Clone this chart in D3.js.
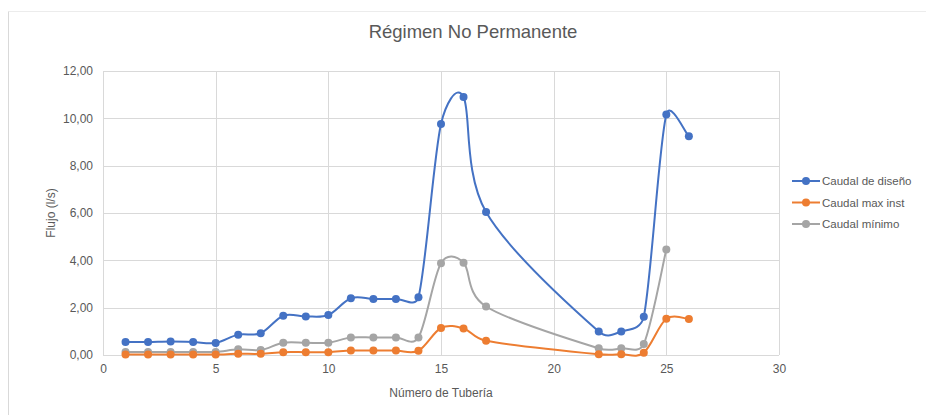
<!DOCTYPE html>
<html>
<head>
<meta charset="utf-8">
<script src="https://cdn.jsdelivr.net/npm/d3@7"></script>
<style>
  html, body { margin: 0; padding: 0; background: #fff; }
  svg { display: block; font-family: "Liberation Sans", Arial, sans-serif; }
</style>
</head>
<body>
<svg id="chart" width="926" height="415"></svg>
<script>
// Pipe numbers and flow values (l/s) for each series
const tuberias = [1, 2, 3, 4, 5, 6, 7, 8, 9, 10, 11, 12, 13, 14, 15, 16, 17, 22, 23, 24, 25, 26];
const caudalDiseno = [0.55, 0.55, 0.57, 0.55, 0.51, 0.86, 0.92, 1.66, 1.63, 1.69, 2.40, 2.37, 2.37, 2.44, 9.76, 10.90, 6.04, 0.99, 0.99, 1.62, 10.16, 9.24];
const caudalMaxInst = [0.02, 0.02, 0.02, 0.02, 0.02, 0.05, 0.05, 0.12, 0.12, 0.12, 0.19, 0.19, 0.19, 0.18, 1.14, 1.12, 0.60, 0.03, 0.03, 0.10, 1.53, 1.52];
const caudalMinimo = [0.13, 0.13, 0.13, 0.13, 0.13, 0.24, 0.21, 0.52, 0.52, 0.52, 0.74, 0.74, 0.74, 0.74, 3.88, 3.90, 2.05, 0.28, 0.28, 0.47, 4.46];
const seriesNames = ["Caudal de diseño", "Caudal max inst", "Caudal mínimo"];
const seriesColors = ["#4472c4", "#ed7d31", "#a5a5a5"];
const xTicks = [0, 5, 10, 15, 20, 25, 30];
const yTicks = [0, 2, 4, 6, 8, 10, 12];

const svg = d3.select("#chart");
const W = 926, H = 415;
const plot = { left: 103, right: 779, top: 71, bottom: 355 };

// Smoothed-line curve: cubic Bezier segments whose control arms are
// (next - previous) / 6, each arm capped at half of its segment's length.
function SmoothCapped(context) { this._context = context; }
SmoothCapped.prototype = {
  areaStart() { this._line = 0; },
  areaEnd() { this._line = NaN; },
  lineStart() { this._pts = []; },
  point(x, y) { this._pts.push([+x, +y]); },
  lineEnd() {
    const p = this._pts, c = this._context, n = p.length;
    if (!n) return;
    c.moveTo(p[0][0], p[0][1]);
    const arm = (a, b, half) => {
      let dx = (b[0] - a[0]) / 6, dy = (b[1] - a[1]) / 6;
      const len = Math.hypot(dx, dy);
      if (len > half && len > 0) { dx *= half / len; dy *= half / len; }
      return [dx, dy];
    };
    for (let i = 0; i < n - 1; i++) {
      const p0 = p[Math.max(i - 1, 0)], p1 = p[i], p2 = p[i + 1], p3 = p[Math.min(i + 2, n - 1)];
      const half = Math.hypot(p2[0] - p1[0], p2[1] - p1[1]) / 2;
      const a1 = arm(p0, p2, half), a2 = arm(p1, p3, half);
      c.bezierCurveTo(p1[0] + a1[0], p1[1] + a1[1], p2[0] - a2[0], p2[1] - a2[1], p2[0], p2[1]);
    }
  }
};
const curveSmooth = context => new SmoothCapped(context);

// Chart frame
svg.append("line").attr("x1", 8.5).attr("x2", W).attr("y1", 11.5).attr("y2", 11.5)
  .attr("stroke", "#ececec");
svg.append("line").attr("x1", 8.5).attr("x2", 8.5).attr("y1", 11.5).attr("y2", H)
  .attr("stroke", "#d9d9d9");

const x = d3.scaleLinear().domain([0, 30]).range([plot.left, plot.right]);
const y = d3.scaleLinear().domain([0, 12]).range([plot.bottom, plot.top]);

// Gridlines
const grid = svg.append("g");
grid.selectAll(".vg").data(xTicks).join("line")
  .attr("x1", d => Math.round(x(d)) + 0.5).attr("x2", d => Math.round(x(d)) + 0.5)
  .attr("y1", plot.top).attr("y2", plot.bottom)
  .attr("stroke", "#d9d9d9");
grid.selectAll(".hg").data(yTicks).join("line")
  .attr("x1", plot.left).attr("x2", plot.right)
  .attr("y1", d => Math.round(y(d)) + 0.5).attr("y2", d => Math.round(y(d)) + 0.5)
  .attr("stroke", "#d9d9d9");

// Axes
const fmt = d => d3.format(".2f")(d).replace(".", ",");
const yAxis = svg.append("g").attr("transform", `translate(${plot.left},0)`)
  .call(d3.axisLeft(y).tickValues(yTicks).tickFormat(fmt).tickSize(0).tickPadding(10));
yAxis.select(".domain").remove();
yAxis.selectAll("text").attr("fill", "#595959").style("font-size", "12px")
  .style("font-family", "Liberation Sans, Arial, sans-serif");

const xAxis = svg.append("g").attr("transform", `translate(0,${plot.bottom})`)
  .call(d3.axisBottom(x).tickValues(xTicks).tickFormat(d3.format("d")).tickSize(0).tickPadding(9));
xAxis.select(".domain").remove();
xAxis.selectAll("text").attr("fill", "#595959").style("font-size", "12px")
  .style("font-family", "Liberation Sans, Arial, sans-serif");

// Title and axis titles
svg.append("text").attr("x", 473).attr("y", 38).attr("text-anchor", "middle")
  .attr("fill", "#595959").style("font-size", "18.5px").text("Régimen No Permanente");
svg.append("text").attr("transform", "translate(55,213) rotate(-90)").attr("text-anchor", "middle")
  .attr("fill", "#595959").style("font-size", "12px").text("Flujo (l/s)");
svg.append("text").attr("x", 441).attr("y", 397).attr("text-anchor", "middle")
  .attr("fill", "#595959").style("font-size", "12px").text("Número de Tubería");

// Series lines with markers
const seriesData = [caudalDiseno, caudalMaxInst, caudalMinimo].map(vals =>
  vals.map((v, i) => ({ x: tuberias[i], y: v })));
const line = d3.line().x(d => x(d.x)).y(d => y(d.y)).curve(curveSmooth);

const order = [2, 1, 0];
order.forEach(k => {
  const g = svg.append("g");
  g.append("path").datum(seriesData[k]).attr("d", line)
    .attr("fill", "none").attr("stroke", seriesColors[k]).attr("stroke-width", 2);
  g.selectAll("circle").data(seriesData[k]).join("circle")
    .attr("cx", d => x(d.x)).attr("cy", d => y(d.y)).attr("r", 4)
    .attr("fill", seriesColors[k]);
});

// Legend
const legend = svg.append("g");
seriesNames.forEach((name, i) => {
  const ly = 181 + i * 21.5;
  legend.append("line").attr("x1", 792).attr("x2", 820).attr("y1", ly).attr("y2", ly)
    .attr("stroke", seriesColors[i]).attr("stroke-width", 2);
  legend.append("circle").attr("cx", 806).attr("cy", ly).attr("r", 4).attr("fill", seriesColors[i]);
  legend.append("text").attr("x", 822).attr("y", ly + 4).attr("fill", "#595959")
    .style("font-size", "11.5px").text(name);
});
</script>
</body>
</html>
